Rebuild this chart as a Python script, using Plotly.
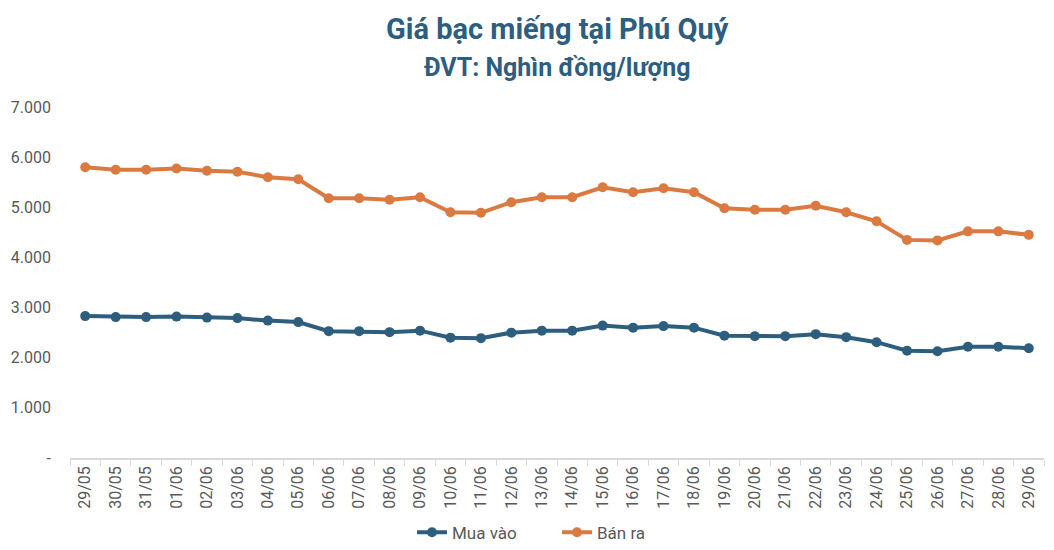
import plotly.graph_objects as go

dates = ["29/05", "30/05", "31/05", "01/06", "02/06", "03/06", "04/06", "05/06",
         "06/06", "07/06", "08/06", "09/06", "10/06", "11/06", "12/06", "13/06",
         "14/06", "15/06", "16/06", "17/06", "18/06", "19/06", "20/06", "21/06",
         "22/06", "23/06", "24/06", "25/06", "26/06", "27/06", "28/06", "29/06"]

mua_vao = [2830, 2810, 2810, 2820, 2800, 2790, 2740, 2710,
           2530, 2530, 2510, 2540, 2400, 2390, 2500, 2540,
           2540, 2640, 2600, 2630, 2600, 2440, 2430, 2430,
           2470, 2410, 2310, 2140, 2130, 2220, 2220, 2190]

ban_ra = [5800, 5750, 5750, 5775, 5730, 5710, 5600, 5560,
          5180, 5180, 5150, 5200, 4900, 4890, 5100, 5200,
          5200, 5400, 5300, 5380, 5300, 4980, 4950, 4950,
          5030, 4900, 4720, 4350, 4340, 4520, 4520, 4450]

y_tickvals = [0, 1000, 2000, 3000, 4000, 5000, 6000, 7000]
y_ticktext = ["-", "1.000", "2.000", "3.000", "4.000", "5.000", "6.000", "7.000"]

title_text = "Giá bạc miếng tại Phú Quý"
subtitle_text = "ĐVT: Nghìn đồng/lượng"

blue = "#2E5E7E"
orange = "#DB7A40"

fig = go.Figure()
fig.add_trace(go.Scatter(x=dates, y=mua_vao, name="Mua vào", mode="lines+markers",
                         line=dict(color=blue, width=4), marker=dict(size=10, color=blue)))
fig.add_trace(go.Scatter(x=dates, y=ban_ra, name="Bán ra", mode="lines+markers",
                         line=dict(color=orange, width=4), marker=dict(size=10, color=orange)))

plot_h = 343
fig.add_annotation(text="<b>" + title_text + "</b>", xref="paper", yref="paper",
                   x=0.5, y=1.0 + (107 - 31) / plot_h, xanchor="center", yanchor="middle",
                   showarrow=False, font=dict(family="Roboto", size=29, color=blue))
fig.add_annotation(text="<b>" + subtitle_text + "</b>", xref="paper", yref="paper",
                   x=0.5, y=1.0 + (107 - 68) / plot_h, xanchor="center", yanchor="middle",
                   showarrow=False, font=dict(family="Roboto", size=25, color=blue))

fig.update_layout(
    width=1046, height=542,
    margin=dict(l=62, r=10, t=99, b=92, autoexpand=False),
    paper_bgcolor="white", plot_bgcolor="white",
    font=dict(family="Roboto", color="#595959", size=16),
    legend=dict(orientation="h", x=0.5, xanchor="center", y=1.0 - (523 - 107) / plot_h,
                yanchor="middle", font=dict(size=17, color="#595959"), entrywidth=100),
    showlegend=True,
)
fig.update_xaxes(
    type="category", range=[-0.5, len(dates) - 0.5],
    showgrid=False, showline=True, linecolor="#D9D9D9", linewidth=1.5,
    ticks="outside", tickson="boundaries", ticklen=6, tickcolor="#D9D9D9",
    tickangle=-90, tickfont=dict(size=16, color="#595959"), automargin=False,
)
fig.update_yaxes(
    range=[0, 7000], tickvals=y_tickvals, ticktext=y_ticktext,
    showgrid=False, zeroline=False, showline=False, automargin=False,
    tickfont=dict(size=16, color="#595959"), ticklabelstandoff=18,
)

fig.write_html("out.html")
